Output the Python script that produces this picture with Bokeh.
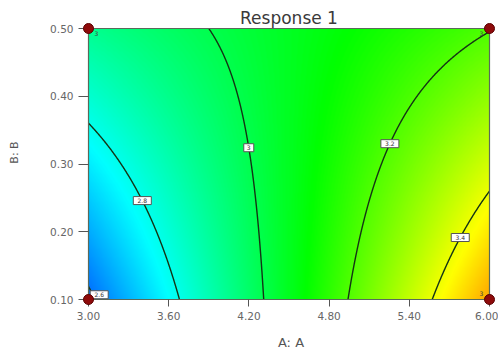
import numpy as np
from bokeh.plotting import figure
from bokeh.models import (LinearColorMapper, FixedTicker, PrintfTickFormatter,
                          Label, ColumnDataSource, Range1d)
from bokeh.core.properties import value
from bokeh.embed import file_html
from bokeh.resources import INLINE

# ---------------- data ----------------
A_LOW, A_HIGH = 3.0, 6.0
B_LOW, B_HIGH = 0.10, 0.50
X_TICKS = [3.00, 3.60, 4.20, 4.80, 5.40, 6.00]
Y_TICKS = [0.10, 0.20, 0.30, 0.40, 0.50]

# fitted model in coded units (x=A, y=B in -1..1)
B0, B_A, B_B, B_AB, B_AA, B_BB = 3.058, 0.308, -0.002, -0.168, 0.0, 0.0
RESP_MIN, RESP_MAX = 2.447, 3.75          # colour scale range of response

LEVELS = [2.6, 2.8, 3.0, 3.2, 3.4]
LEVEL_TEXT = ["2.6", "2.8", "3", "3.2", "3.4"]
LABEL_B = [0.107, 0.246, 0.324, 0.330, 0.1915]

PTS_A = [3.0, 3.0, 6.0, 6.0]
PTS_B = [0.10, 0.50, 0.10, 0.50]
PTS_N = ["", "3", "3", "3"]

TITLE = "Response 1"
X_LABEL = "A: A"
Y_LABEL = "B: B"

FONT = "DejaVu Sans"


def response(a, b):
    x = (a - (A_LOW + A_HIGH) / 2) / ((A_HIGH - A_LOW) / 2)
    y = (b - (B_LOW + B_HIGH) / 2) / ((B_HIGH - B_LOW) / 2)
    return B0 + B_A * x + B_B * y + B_AB * x * y + B_AA * x * x + B_BB * y * y


# ---------------- layout (pixels) ----------------
W, H = 498, 358
PLOT_L, PLOT_R, PLOT_T, PLOT_B = 88, 489, 28, 299   # where the coloured area sits
PAD = 5
TITLE_BASE = 17
ML, MR, MT = PLOT_L - PAD, 0, 0
MB = H - (PLOT_B + PAD)
fw = W - ML - MR
fh = H - MT - MB
ux = (A_HIGH - A_LOW) / (PLOT_R - PLOT_L)      # data per pixel
uy = (B_HIGH - B_LOW) / (PLOT_B - PLOT_T)
x0 = A_LOW - PAD * ux
x1 = x0 + fw * ux
y0 = B_LOW - PAD * uy
y1 = y0 + fh * uy

p = figure(width=W, height=H, output_backend="svg", toolbar_location=None,
           x_range=Range1d(x0, x1), y_range=Range1d(y0, y1),
           min_border_left=ML, min_border_right=MR, min_border_top=MT,
           min_border_bottom=MB)
p.outline_line_color = None
p.grid.visible = False
p.background_fill_color = "white"
p.border_fill_color = "white"

# colour map: blue - cyan - green - yellow - red
stops = np.array([[0, 0, 255], [0, 255, 255], [0, 255, 0], [255, 255, 0], [255, 0, 0]], float)
t = np.linspace(0, 1, 256)
pos = np.linspace(0, 1, len(stops))
pal = []
for ti in t:
    r = np.interp(ti, pos, stops[:, 0])
    g = np.interp(ti, pos, stops[:, 1])
    b = np.interp(ti, pos, stops[:, 2])
    pal.append("#%02x%02x%02x" % (int(round(r)), int(round(g)), int(round(b))))
mapper = LinearColorMapper(palette=pal, low=RESP_MIN, high=RESP_MAX)

ga = np.linspace(A_LOW, A_HIGH, 400)
gb = np.linspace(B_LOW, B_HIGH, 300)
AA, BB = np.meshgrid(ga, gb)
Z = response(AA, BB)

p.image(image=[Z], x=A_LOW, y=B_LOW, dw=A_HIGH - A_LOW, dh=B_HIGH - B_LOW,
        color_mapper=mapper)
p.contour(x=ga, y=gb, z=Z, levels=LEVELS, line_color="#143414", line_width=1.4)

# frame border
p.quad(left=[A_LOW], right=[A_HIGH], bottom=[B_LOW], top=[B_HIGH],
       fill_color=None, line_color="#5a6a5a", line_width=1.2)

# contour labels
lab_a = []
for lev, bval in zip(LEVELS, LABEL_B):
    row = response(ga, bval)
    a = float(np.interp(lev, row, ga))
    a = max(a, A_LOW + 0.08)
    lab_a.append(a)
lsrc = ColumnDataSource(dict(a=lab_a, b=LABEL_B, t=LEVEL_TEXT,
                             w=[6 + 4 * len(s) for s in LEVEL_TEXT]))
p.rect(x="a", y="b", width="w", height=8, width_units="screen", height_units="screen",
       source=lsrc, fill_color="white", line_color="#555555", line_width=1)
p.text(x="a", y="b", text="t", source=lsrc, text_font=value(FONT),
       text_font_size="6px", text_align="center", text_baseline="middle",
       text_color="#333333")

# design points
p.scatter(PTS_A, PTS_B, size=10, fill_color="#8e0a0a", line_color="#5a0000",
          line_width=1, level="overlay")
psrc = ColumnDataSource(dict(a=PTS_A, b=PTS_B, t=PTS_N,
                             xo=[8 if a == A_LOW else -8 for a in PTS_A],
                             yo=[5 if b == B_HIGH else -6 for b in PTS_B]))
p.text(x="a", y="b", text="t", source=psrc, x_offset="xo", y_offset="yo",
       text_font=value(FONT), text_font_size="6px", text_align="center",
       text_baseline="middle", text_color="#444444")

# axes
for ax in (p.xaxis[0], p.yaxis[0]):
    ax.axis_line_color = None
    ax.major_tick_line_color = "#555555"
    ax.minor_tick_line_color = None
    ax.major_label_text_font = FONT
    ax.major_label_text_font_size = "10.5px"
    ax.major_label_text_color = "#666666"
    ax.axis_label_text_font = FONT
    ax.axis_label_text_font_style = "normal"
    ax.axis_label_text_color = "#555555"
    ax.formatter = PrintfTickFormatter(format="%.2f")

p.xaxis.ticker = FixedTicker(ticks=X_TICKS)
p.yaxis.ticker = FixedTicker(ticks=Y_TICKS)
p.xaxis.axis_label = X_LABEL
p.yaxis.axis_label = Y_LABEL
p.xaxis.axis_label_text_font_size = "13px"
p.yaxis.axis_label_text_font_size = "11px"
p.xaxis.major_tick_in = PAD
p.xaxis.major_tick_out = 2
p.yaxis.major_tick_in = PAD
p.yaxis.major_tick_out = 5
p.xaxis.major_label_standoff = 5
p.yaxis.major_label_standoff = 5
p.xaxis.axis_label_standoff = 12
p.yaxis.axis_label_standoff = 26

p.add_layout(Label(x=(A_LOW + A_HIGH) / 2, y=B_HIGH + (PLOT_T - TITLE_BASE) * uy,
                   text=TITLE, text_font=FONT, text_font_size="17px",
                   text_align="center", text_baseline="alphabetic",
                   text_color="#3a3a3a"))

open("out.html", "w").write(file_html(p, INLINE))
